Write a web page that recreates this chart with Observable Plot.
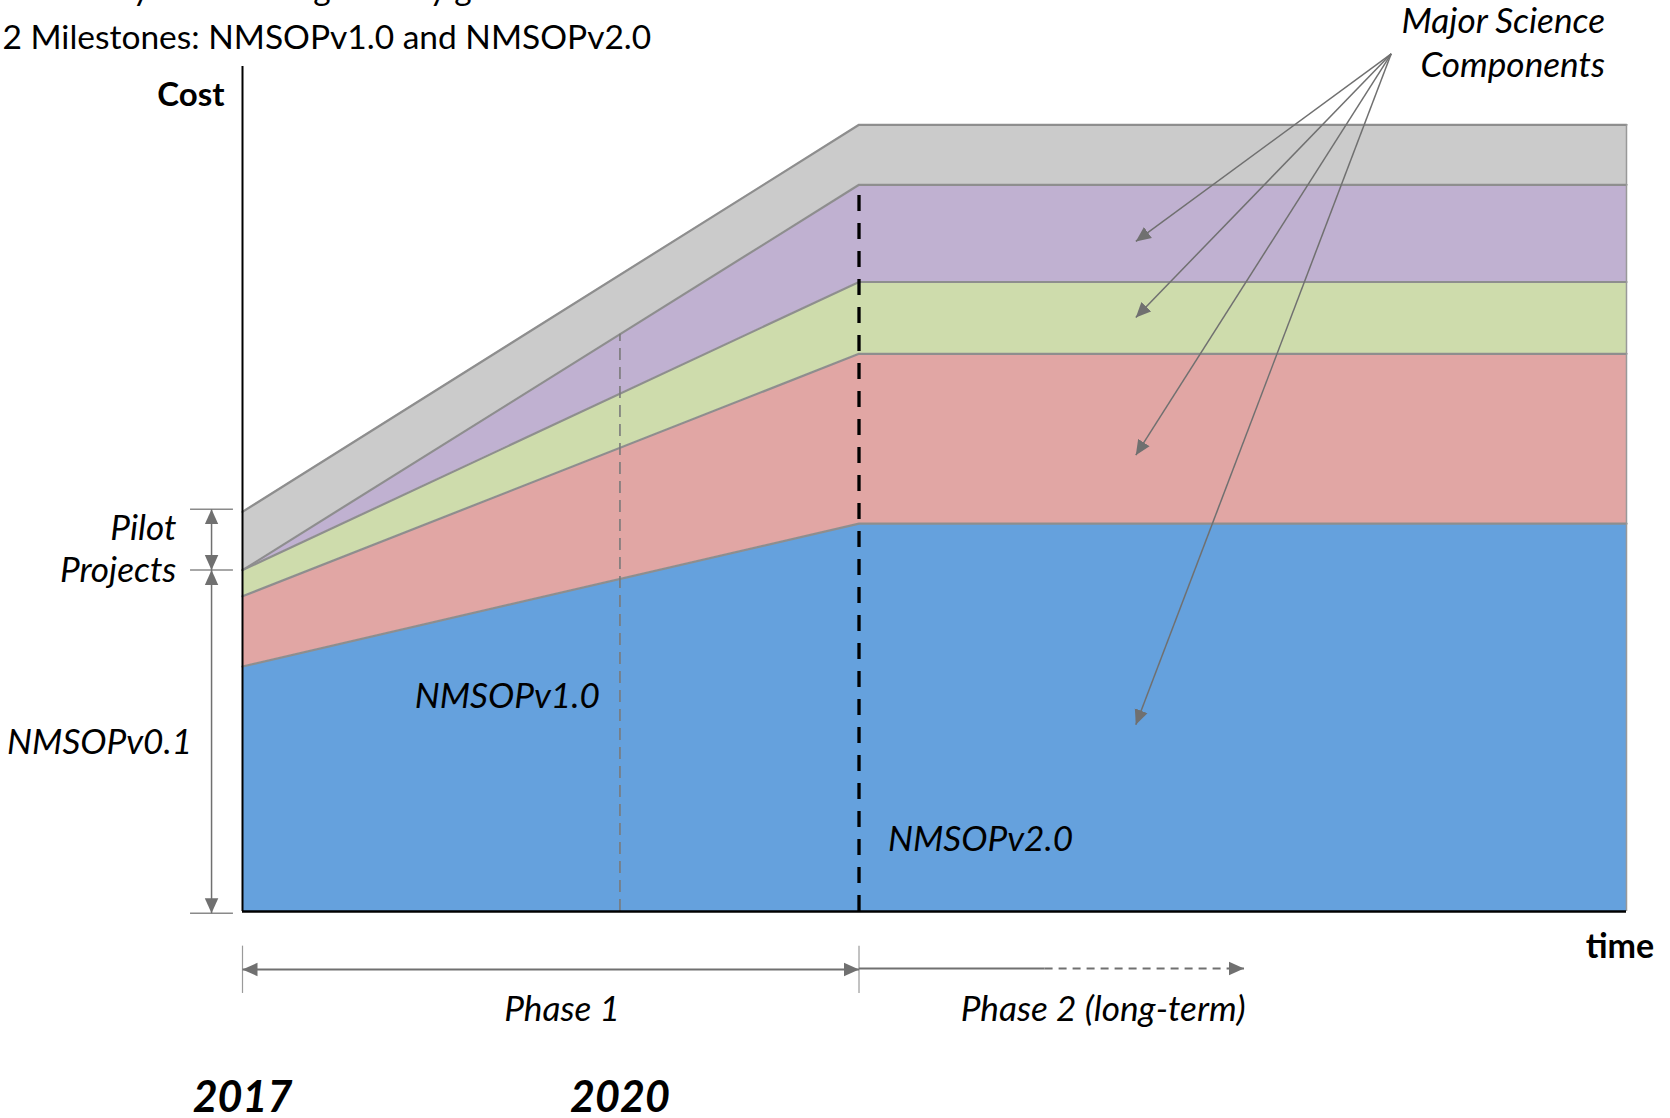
<!DOCTYPE html>
<html>
<head>
<meta charset="utf-8">
<script src="https://cdn.jsdelivr.net/npm/d3@7"></script>
<script src="https://cdn.jsdelivr.net/npm/@observablehq/plot@0.6"></script>
<style>
  html, body { margin: 0; padding: 0; background: #fff; }
  #chart { width: 1670px; height: 1118px; overflow: hidden; }
</style>
</head>
<body>
<div id="chart"></div>
<script>
// ---- data ----
const times = [2017, 2021.9, 2028];               // start, NMSOPv2.0, end of horizon
const layers = ["NMSOP", "Science component 1", "Science component 2", "Science component 3", "Pilot projects"];
const layerColors = ["#65A1DD", "#E1A6A4", "#CEDCAC", "#C0B1D1", "#CBCBCB"];
const nmsopCost = [29.0, 45.9, 45.9];
const science1Cost = [8.3, 20.1, 20.1];
const science2Cost = [3.1, 8.5, 8.5];
const science3Cost = [0.0, 11.5, 11.5];
const pilotCost = [6.9, 7.1, 7.1];
const yearTicks = [2017, 2020];
const milestones = [
  {name: "NMSOPv1.0", t: 2020, top: 68.3},
  {name: "NMSOPv2.0", t: 2021.9, top: 85.3}
];
const titleLines = ["Iteratively refine and gradually grow", "2 Milestones: NMSOPv1.0 and NMSOPv2.0"];
const scienceTargets = [79.3, 70.3, 54.0, 22.1];

// ---- table for the library ----
const series = [nmsopCost, science1Cost, science2Cost, science3Cost, pilotCost];
const rows = [];
layers.forEach((layer, i) => times.forEach((t, j) => rows.push({layer, t, value: series[i][j]})));

const outline = "#8E8E8E";
const annot = "#707070";
const FONT = "Lato";
const ITAL = 35.2;

const scienceArrows = scienceTargets.map(v => ({x1: 2026.13, y1: 101.5, x2: 2024.1, y2: v}));
const italicEnd = [
  {x: 2016.60, y: 18.6, label: "NMSOPv0.1"},
  {x: 2019.84, y: 24.1, label: milestones[0].name}
];
const italicStart = [
  {x: 2022.13, y: 7.2, label: milestones[1].name}
];
const italicMiddle = [
  {x: 2019.54, y: -12.9, label: "Phase 1"},
  {x: 2023.84, y: -12.9, label: "Phase 2 (long-term)"}
];

const plot = Plot.plot({
  width: 1670,
  height: 1118,
  marginLeft: 242,
  marginRight: 44,
  marginTop: 66,
  marginBottom: 207,
  x: {domain: [2017, 2028], axis: null},
  y: {domain: [0, 100], axis: null},
  color: {domain: layers, range: layerColors, legend: false},
  style: {fontFamily: FONT, background: "white", overflow: "hidden"},
  marks: [
    Plot.areaY(rows, {x: "t", y: "value", fill: "layer", z: "layer", order: layers}),
    Plot.lineY(rows, Plot.stackY2({x: "t", y: "value", z: "layer", order: layers, stroke: outline, strokeWidth: 2.2})),
    Plot.ruleX([2028], {y1: 0, y2: d3.sum(series, s => s[2]), stroke: "#999", strokeWidth: 1.5}),
    // milestone lines
    Plot.ruleX([milestones[0]], {x: "t", y1: 0, y2: "top", stroke: "#7a7a7a", strokeWidth: 1.6, strokeDasharray: "12,7"}),
    Plot.ruleX([milestones[1]], {x: "t", y1: 0, y2: "top", stroke: "black", strokeWidth: 3.3, strokeDasharray: "16,12"}),
    // axes
    Plot.ruleX([2017], {y1: 0, y2: 100, stroke: "black", strokeWidth: 2}),
    Plot.ruleY([0], {x1: 2017, x2: 2028, stroke: "black", strokeWidth: 2.5}),
    // pilot / v0.1 brackets
    Plot.ruleY([47.6, 40.4, -0.2], {x1: 2016.587, x2: 2016.928, stroke: "#8a8a8a", strokeWidth: 1.5}),
    Plot.link([{a: 47.6, b: 40.4}, {a: 40.4, b: -0.2}], {x1: () => 2016.754, x2: () => 2016.754, y1: "a", y2: "b", stroke: annot, strokeWidth: 1.5, markerStart: "arrow", markerEnd: "arrow"}),
    // phase arrows
    Plot.ruleX([2017, 2021.9], {y1: -4.1, y2: -9.7, stroke: "#9a9a9a", strokeWidth: 1.2}),
    Plot.link([{x1: 2017, x2: 2021.9}], {x1: "x1", x2: "x2", y1: () => -6.86, y2: () => -6.86, stroke: annot, strokeWidth: 2, markerStart: "arrow", markerEnd: "arrow"}),
    Plot.link([{x1: 2021.9, x2: 2023.375}], {x1: "x1", x2: "x2", y1: () => -6.75, y2: () => -6.75, stroke: annot, strokeWidth: 2}),
    Plot.link([{x1: 2023.375, x2: 2024.96}], {x1: "x1", x2: "x2", y1: () => -6.75, y2: () => -6.75, stroke: annot, strokeWidth: 2, strokeDasharray: "8,6", markerEnd: "arrow"}),
    // science component arrows
    Plot.link(scienceArrows, {x1: "x1", y1: "y1", x2: "x2", y2: "y2", stroke: annot, strokeWidth: 1.5, markerEnd: "arrow"}),
    // titles
    Plot.text([titleLines[0]], {frameAnchor: "top-left", dx: -240, dy: -67, lineAnchor: "bottom", textAnchor: "start", fontSize: 33.5, fill: "black"}),
    Plot.text([titleLines[1]], {frameAnchor: "top-left", dx: -240, dy: -18, lineAnchor: "bottom", textAnchor: "start", fontSize: 33.5, fill: "black"}),
    // axis labels
    Plot.text(["Cost"], {x: () => 2016.857, y: () => 95.3, lineAnchor: "bottom", textAnchor: "end", fontSize: 33, fontWeight: "bold", fill: "black"}),
    Plot.text(["time"], {x: () => 2028.22, y: () => -5.56, lineAnchor: "bottom", textAnchor: "end", fontSize: 34, fontWeight: "bold", fill: "black"}),
    // italic annotations
    Plot.text(["Major Science\nComponents"], {x: () => 2027.83, y: () => 98.7, lineAnchor: "bottom", textAnchor: "end", lineHeight: 1.26, fontSize: ITAL, fontStyle: "italic", fill: "black"}),
    Plot.text(["Pilot\nProjects"], {x: () => 2016.475, y: () => 39.05, lineAnchor: "bottom", textAnchor: "end", lineHeight: 1.17, fontSize: ITAL, fontStyle: "italic", fill: "black"}),
    Plot.text(italicEnd, {x: "x", y: "y", text: "label", lineAnchor: "bottom", textAnchor: "end", fontSize: ITAL, fontStyle: "italic", fill: "black"}),
    Plot.text(italicStart, {x: "x", y: "y", text: "label", lineAnchor: "bottom", textAnchor: "start", fontSize: ITAL, fontStyle: "italic", fill: "black"}),
    Plot.text(italicMiddle, {x: "x", y: "y", text: "label", lineAnchor: "bottom", textAnchor: "middle", fontSize: ITAL, fontStyle: "italic", fill: "black"}),
    // years
    Plot.text(yearTicks, {x: d => d, y: () => -23.7, text: d => String(d), lineAnchor: "bottom", textAnchor: "middle", fontSize: 43, fontWeight: "bold", fontStyle: "italic", fill: "black"})
  ]
});

// filled triangular arrowheads (start markers reversed so they point outward)
plot.querySelectorAll("marker").forEach(m => {
  const color = m.getAttribute("stroke") || annot;
  m.setAttribute("viewBox", "-10 -5 10 10");
  m.setAttribute("markerUnits", "userSpaceOnUse");
  m.setAttribute("markerWidth", 15);
  m.setAttribute("markerHeight", 15);
  m.setAttribute("orient", "auto-start-reverse");
  m.setAttribute("fill", color);
  m.setAttribute("stroke", "none");
  const p = m.querySelector("path");
  if (p) p.setAttribute("d", "M-10,-4.5L0,0L-10,4.5Z");
});

document.getElementById("chart").appendChild(plot);
</script>
</body>
</html>
